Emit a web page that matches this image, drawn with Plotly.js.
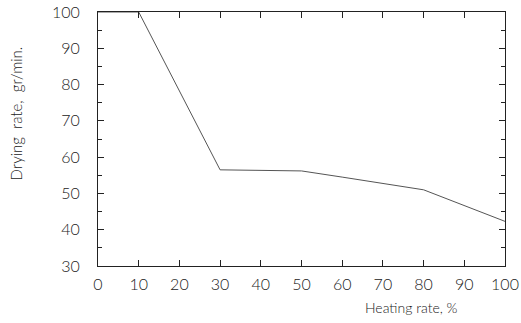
<!DOCTYPE html>
<html>
<head>
<meta charset="utf-8">
<script src="https://cdn.plot.ly/plotly-3.0.1.min.js"></script>
<style>
  html, body { margin: 0; padding: 0; background: #fff; }
  #chart { width: 521px; height: 323px; }
</style>
</head>
<body>
<div id="chart"></div>
<script>
// Heating rate (%) vs drying rate (gr/min.)
const heatingRate = [0, 10, 30, 50, 60, 70, 80, 100];
const dryingRate  = [100, 100, 56.5, 56.2, 54.5, 52.7, 51, 42.3];

const xTicks = [0, 10, 20, 30, 40, 50, 60, 70, 80, 90, 100];
const yTicks = [30, 40, 50, 60, 70, 80, 90, 100];

const xTitle = 'Heating rate, %';
const yTitle = 'Drying\u00a0\u00a0rate,\u00a0\u00a0gr/min.';

const ink = '#222';
const fontFam = 'Lato, "DejaVu Sans", sans-serif';

const trace = {
  x: heatingRate,
  y: dryingRate,
  mode: 'lines',
  line: { color: '#555', width: 1 },
  hoverinfo: 'skip'
};

const axisCommon = {
  showgrid: false,
  zeroline: false,
  showline: true,
  linecolor: ink,
  linewidth: 1,
  mirror: 'ticks',
  ticks: 'inside',
  ticklen: 6,
  tickcolor: ink,
  tickfont: { family: fontFam, size: 16, color: ink, weight: 300 }
};

const layout = {
  width: 521,
  height: 323,
  margin: { l: 98, r: 16, t: 12, b: 57 },
  paper_bgcolor: '#fff',
  plot_bgcolor: '#fff',
  showlegend: false,
  xaxis: Object.assign({}, axisCommon, {
    range: [0, 100],
    tickvals: xTicks,
    ticktext: xTicks.map(String),
    ticklabelstandoff: 4
  }),
  yaxis: Object.assign({}, axisCommon, {
    range: [30, 100],
    tickvals: yTicks,
    ticktext: yTicks.map(String),
    ticklabelstandoff: 14,
    minor: { dtick: 5, tick0: 30, ticks: 'inside', ticklen: 4, tickcolor: ink }
  }),
  annotations: [
    {
      text: xTitle,
      xref: 'paper', yref: 'paper',
      x: 0.77, y: -0.165,
      xanchor: 'center', yanchor: 'middle',
      showarrow: false,
      font: { family: fontFam, size: 14, color: ink, weight: 300 }
    },
    {
      text: yTitle,
      xref: 'paper', yref: 'paper',
      x: -0.202, y: 0.6,
      xanchor: 'center', yanchor: 'middle',
      textangle: -90,
      showarrow: false,
      font: { family: fontFam, size: 15, color: ink, weight: 300 }
    }
  ]
};

Plotly.newPlot('chart', [trace], layout, { staticPlot: true, displayModeBar: false });
</script>
</body>
</html>
